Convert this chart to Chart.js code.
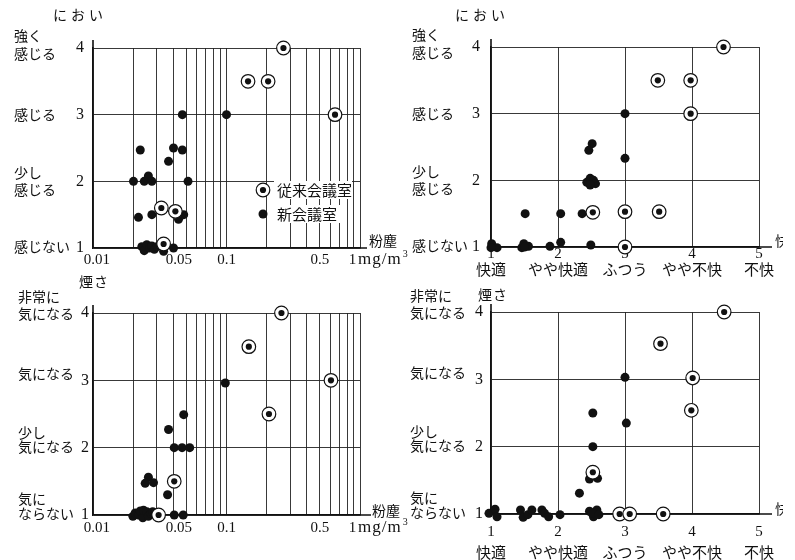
<!DOCTYPE html>
<html>
<head>
<meta charset="utf-8">
<script src="https://cdn.jsdelivr.net/npm/chart.js@4.4.0/dist/chart.umd.min.js"></script>
<style>
body { margin: 0; background: #fff; }
#wrap { position: relative; width: 795px; height: 560px; overflow: hidden; }
#wrap canvas { position: absolute; left: 0; top: 0; }
</style>
</head>
<body>
<div id="wrap">
<canvas id="odorDust" width="795" height="560"></canvas>
<canvas id="odorComfort" width="795" height="560"></canvas>
<canvas id="smokeDust" width="795" height="560"></canvas>
<canvas id="smokeComfort" width="795" height="560"></canvas>
</div>
<script>
// 軸の目盛り・ラベル
var dustTicks = [0.01, 0.02, 0.03, 0.04, 0.05, 0.06, 0.07, 0.08, 0.09, 0.1, 0.2, 0.3, 0.4, 0.5, 0.6, 0.7, 0.8, 0.9, 1];
var dustLabels = [0.01, 0.05, 0.1, 0.5, 1];
var comfortTicks = [1, 2, 3, 4, 5];
var comfortWords = ["快適", "やや快適", "ふつう", "やや不快", "不快"];
var levelTicks = [1, 2, 3, 4];
var odorLevels = [["感じない"], ["少し", "感じる"], ["感じる"], ["強く", "感じる"]];
var smokeLevels = [["気に", "ならない"], ["少し", "気になる"], ["気になる"], ["非常に", "気になる"]];
var seriesNames = ["従来会議室", "新会議室"];

// におい × 粉塵 [mg/m3, 評価]
var dustOdorOld = [[0.267, 4], [0.145, 3.5], [0.205, 3.5], [0.65, 3], [0.0325, 1.6], [0.0414, 1.55], [0.0338, 1.06]];
var dustOdorNew = [[0.0201, 2], [0.0226, 2.47], [0.0242, 2], [0.026, 2.08], [0.0276, 2], [0.0368, 2.3], [0.0401, 2.5],
    [0.0467, 2.47], [0.0467, 3], [0.0515, 2], [0.1, 3], [0.0219, 1.46], [0.0276, 1.5], [0.0437, 1.43], [0.0478, 1.5],
    [0.0232, 1.02], [0.0242, 0.96], [0.0253, 1.05], [0.0265, 1.0], [0.0276, 1.03], [0.0288, 0.98], [0.0301, 1.02],
    [0.0338, 0.95], [0.0401, 1.0]];

// におい × 快適感
var comfortOdorOld = [[4.47, 4], [3.49, 3.5], [3.98, 3.5], [3.98, 3], [2.52, 1.52], [3.0, 1.53], [3.51, 1.53], [3.0, 1.0]];
var comfortOdorNew = [[3, 3], [3, 2.33], [2.51, 2.55], [2.46, 2.45], [2.43, 1.97], [2.48, 2.03], [2.53, 2.0], [2.56, 1.95],
    [2.48, 1.93], [1.51, 1.5], [2.04, 1.5], [2.36, 1.5], [1.01, 1.05], [1.09, 0.99], [1.0, 0.99], [1.49, 1.05],
    [1.56, 1.01], [1.46, 0.99], [1.5, 1.0], [1.88, 1.01], [2.04, 1.07], [2.49, 1.03]];

// 煙さ × 粉塵
var dustSmokeOld = [[0.258, 4], [0.147, 3.5], [0.606, 3], [0.208, 2.5], [0.0406, 1.5], [0.031, 1.0]];
var dustSmokeNew = [[0.098, 2.96], [0.0478, 2.49], [0.0368, 2.27], [0.0406, 2], [0.0465, 2], [0.053, 2],
    [0.026, 1.56], [0.0246, 1.47], [0.0284, 1.48], [0.0362, 1.3], [0.0406, 1.0], [0.0474, 1.0],
    [0.0199, 0.98], [0.0207, 1.03], [0.0219, 1.0], [0.0226, 1.06], [0.0236, 0.96], [0.0239, 1.07],
    [0.0246, 0.93], [0.0253, 1.05], [0.026, 0.98], [0.0272, 1.02], [0.028, 1.05]];

// 煙さ × 快適感
var comfortSmokeOld = [[4.48, 4], [3.53, 3.53], [4.01, 3.02], [3.99, 2.54], [2.52, 1.62], [2.92, 1.0], [3.07, 1.0], [3.57, 1.0]];
var comfortSmokeNew = [[3.0, 3.03], [3.02, 2.35], [2.52, 2.5], [2.52, 2.0], [2.47, 1.52], [2.59, 1.53], [2.32, 1.31],
    [0.97, 1.01], [1.06, 1.07], [1.09, 0.96], [1.44, 1.06], [1.48, 0.95], [1.55, 0.99], [1.61, 1.06],
    [1.76, 1.06], [1.8, 1.01], [1.86, 0.96], [2.03, 0.99], [2.47, 1.04], [2.53, 0.96], [2.58, 1.06],
    [2.51, 1.01], [2.61, 0.99]];

var SERIF = "'Liberation Serif', 'Noto Sans CJK JP', serif";
var JP = "'Noto Sans CJK JP', sans-serif";
var INK = "#111";

// 粉塵ラベルの位置ずれ（原図どおり）を空白で再現
var dustLabelText = {"0.01": "\u20020.01", "0.05": "0.05\u2003", "0.1": "0.1", "0.5": "0.5", "1": "1\u2003"};

function pts(list) {
    return list.map(function (p) { return {x: p[0], y: p[1]}; });
}

function makePanel(id, o) {
    var isLog = o.log;

    var textPlugin = {
        id: "panelText",
        afterDraw: function (chart) {
            var c = chart.ctx, a = chart.chartArea, ys = chart.scales.y;
            c.save();
            c.fillStyle = INK;
            c.strokeStyle = INK;
            c.lineWidth = 1.6;
            // 軸の延長
            c.beginPath();
            c.moveTo(a.left, a.top - 8); c.lineTo(a.left, a.top);
            c.moveTo(a.right, a.bottom); c.lineTo(o.axisEnd, a.bottom);
            c.stroke();

            c.textBaseline = "middle";
            c.textAlign = "left";
            c.font = "14px " + JP;
            o.levels.forEach(function (lines, i) {
                var py = ys.getPixelForValue(levelTicks[i]);
                lines.forEach(function (s, k) {
                    c.fillText(s, o.levelX, py + o.offsets[i][k]);
                });
            });

            o.texts.forEach(function (t) {
                c.font = t.font;
                c.letterSpacing = t.ls || "0px";
                c.fillText(t.s, t.x, t.y);
            });
            c.letterSpacing = "0px";

            if (o.unit) {
                c.font = "17px " + SERIF;
                c.letterSpacing = "1px";
                c.fillText("mg/m", o.unit.x, o.unit.y);
                var w = c.measureText("mg/m").width;
                c.font = "10px " + SERIF;
                c.fillText("3", o.unit.x + w + 1, o.unit.y - 6);
                c.letterSpacing = "0px";
            }

            if (o.cutChar) {
                c.save();
                c.beginPath();
                c.rect(o.cutChar.x, o.cutChar.y - 10, 8, 20);
                c.clip();
                c.font = "14px " + JP;
                c.fillText("快", o.cutChar.x, o.cutChar.y);
                c.restore();
            }

            if (o.legend) {
                c.fillStyle = "#fff";
                c.fillRect(274, 181, 78, 18);
                c.fillRect(274, 205, 66, 18);
                c.beginPath();
                c.arc(263, 190, 6.8, 0, Math.PI * 2);
                c.fill();
                c.lineWidth = 1.2; c.stroke();
                c.fillStyle = INK;
                c.beginPath(); c.arc(263, 190, 3.1, 0, Math.PI * 2); c.fill();
                c.beginPath(); c.arc(263, 214, 4.5, 0, Math.PI * 2); c.fill();
                c.font = "15px " + JP;
                c.fillText(seriesNames[0], 277, 190);
                c.fillText(seriesNames[1], 277, 214);
            }
            c.restore();
        }
    };

    var xScale;
    if (isLog) {
        xScale = {
            type: "logarithmic",
            min: 0.01,
            max: 1,
            afterBuildTicks: function (s) {
                s.ticks = dustTicks.map(function (v) { return {value: v}; });
            },
            ticks: {
                autoSkip: false,
                maxRotation: 0,
                padding: o.xPad,
                color: INK,
                font: {family: SERIF, size: 15},
                callback: function (v) {
                    return dustLabels.indexOf(v) >= 0 ? dustLabelText[String(v)] : "";
                }
            }
        };
    } else {
        xScale = {
            type: "linear",
            min: 1,
            max: 5,
            afterBuildTicks: function (s) {
                s.ticks = comfortTicks.map(function (v) { return {value: v}; });
            },
            ticks: {
                autoSkip: false,
                maxRotation: 0,
                padding: o.xPad,
                color: INK,
                font: {family: SERIF, size: 15, lineHeight: o.xLine},
                callback: function (v) {
                    return [String(v), comfortWords[v - 1]];
                }
            }
        };
    }
    xScale.grid = {color: "#222", lineWidth: 0.9, drawTicks: false};
    xScale.border = {color: INK, width: 1.6};
    xScale.afterFit = function (s) { s.height = o.xH; };

    new Chart(document.getElementById(id), {
        type: "scatter",
        data: {
            datasets: [{
                label: seriesNames[0] + " dot",
                data: pts(o.oldData),
                pointRadius: 3.1,
                pointBackgroundColor: INK,
                pointBorderWidth: 0,
                order: 0,
                clip: false
            }, {
                label: seriesNames[0],
                data: pts(o.oldData),
                pointRadius: 6.8,
                pointBackgroundColor: "#fff",
                pointBorderColor: INK,
                pointBorderWidth: 1.2,
                order: 1,
                clip: false
            }, {
                label: seriesNames[1],
                data: pts(o.newData),
                pointRadius: 4.5,
                pointBackgroundColor: INK,
                pointBorderWidth: 0,
                order: 2,
                clip: false
            }]
        },
        options: {
            responsive: false,
            animation: false,
            events: [],
            layout: {
                padding: {
                    left: 0,
                    top: o.area.top,
                    right: 795 - o.area.right,
                    bottom: 560 - o.area.bottom - o.xH
                }
            },
            scales: {
                x: xScale,
                y: {
                    type: "linear",
                    min: 1,
                    max: 4,
                    afterBuildTicks: function (s) {
                        s.ticks = levelTicks.map(function (v) { return {value: v}; });
                    },
                    ticks: {padding: o.yPad, color: INK, font: {family: SERIF, size: 16}},
                    grid: {color: "#222", lineWidth: 0.9, drawTicks: false},
                    border: {color: INK, width: 1.6},
                    afterFit: function (s) { s.width = o.area.left; }
                }
            },
            plugins: {
                legend: {display: false},
                tooltip: {enabled: false}
            }
        },
        plugins: [textPlugin]
    });
}

var odorOff = [[-1], [-9, 8], [0], [-12, 6]];
var smokeOff = [[-16, -1], [-15, -1], [-7], [-16, 1]];

makePanel("odorDust", {
    log: true,
    area: {left: 93, top: 48, right: 360, bottom: 248},
    xPad: 3, xH: 30, yPad: 9,
    oldData: dustOdorOld, newData: dustOdorNew,
    levels: odorLevels, offsets: odorOff, levelX: 14,
    axisEnd: 367,
    texts: [
        {s: "におい", x: 53, y: 15, font: "14px " + JP, ls: "4px"},
        {s: "粉塵", x: 369, y: 241, font: "14px " + JP}
    ],
    unit: {x: 358, y: 260},
    legend: true
});

makePanel("odorComfort", {
    log: false,
    area: {left: 491, top: 47, right: 759, bottom: 247},
    xPad: -1, xLine: 1.13, xH: 36, yPad: 11,
    oldData: comfortOdorOld, newData: comfortOdorNew,
    levels: odorLevels, offsets: odorOff, levelX: 412,
    axisEnd: 772,
    texts: [
        {s: "におい", x: 455, y: 15, font: "14px " + JP, ls: "4px"}
    ],
    cutChar: {x: 775, y: 241}
});

makePanel("smokeDust", {
    log: true,
    area: {left: 93, top: 313, right: 360, bottom: 515},
    xPad: 4, xH: 30, yPad: 4,
    oldData: dustSmokeOld, newData: dustSmokeNew,
    levels: smokeLevels, offsets: smokeOff, levelX: 18,
    axisEnd: 371,
    texts: [
        {s: "煙さ", x: 79, y: 282, font: "14px " + JP, ls: "1px"},
        {s: "粉塵", x: 372, y: 511, font: "14px " + JP}
    ],
    unit: {x: 358, y: 528}
});

makePanel("smokeComfort", {
    log: false,
    area: {left: 491, top: 312, right: 759, bottom: 514},
    xPad: 7, xLine: 1.45, xH: 46, yPad: 8,
    oldData: comfortSmokeOld, newData: comfortSmokeNew,
    levels: smokeLevels, offsets: smokeOff, levelX: 410,
    axisEnd: 772,
    texts: [
        {s: "煙さ", x: 478, y: 295, font: "14px " + JP, ls: "1px"}
    ],
    cutChar: {x: 775, y: 509}
});
</script>
</body>
</html>
